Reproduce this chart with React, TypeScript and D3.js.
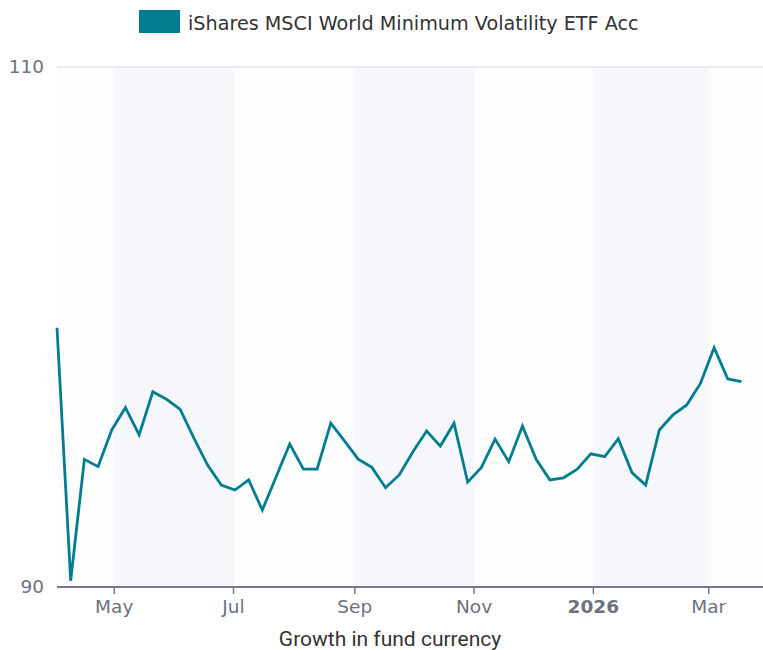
import React, { useEffect, useRef } from 'react';
import * as d3 from 'd3';

const seriesName = 'iShares MSCI World Minimum Volatility ETF Acc';
const startDate = '2025-04-02';
const values = [
  99.97, 90.24, 94.91, 94.63, 96.04, 96.9, 95.85, 97.51, 97.22, 96.83,
  95.73, 94.69, 93.92, 93.73, 94.12, 92.96, 94.23, 95.5, 94.53, 94.53,
  96.3, 95.62, 94.92, 94.6, 93.82, 94.31, 95.2, 96.0, 95.42, 96.3,
  94.03, 94.6, 95.69, 94.82, 96.19, 94.91, 94.12, 94.2, 94.53, 95.12,
  95.01, 95.7, 94.4, 93.92, 96.04, 96.62, 97.0, 97.83, 99.2, 98.0, 97.9,
];
const yTicks = [90, 110];
const xTickDates = ['2025-05-01', '2025-07-01', '2025-09-01', '2025-11-01', '2026-01-01', '2026-03-01'];
const bandStarts = ['2025-05-01', '2025-09-01', '2026-01-01'];
const bandEnds = ['2025-07-01', '2025-11-01', '2026-03-01'];
const xDomain = ['2025-04-02', '2026-03-29'];

const App: React.FC = () => {
  const ref = useRef<SVGSVGElement>(null);

  useEffect(() => {
    if (!ref.current) return;
    const width = 763, height = 650;
    const margin = { top: 67, right: 0, bottom: 63, left: 57 };
    const parse = d3.timeParse('%Y-%m-%d');
    const start = parse(startDate) as Date;
    const data = values.map((v, i) => ({ date: d3.timeDay.offset(start, i * 7), value: v }));
    const dejavu = '"DejaVu Sans", sans-serif';

    const svg = d3.select(ref.current);
    svg.selectAll('*').remove();
    svg.attr('width', width).attr('height', height);

    const x = d3.scaleTime()
      .domain(xDomain.map(d => parse(d) as Date))
      .range([margin.left, width - margin.right]);
    const y = d3.scaleLinear()
      .domain([90, 110])
      .range([height - margin.bottom, margin.top]);

    // plot background
    svg.append('rect')
      .attr('x', margin.left).attr('y', margin.top)
      .attr('width', width - margin.right - margin.left)
      .attr('height', height - margin.bottom - margin.top)
      .attr('fill', '#fdfdfe');

    svg.append('g').selectAll('rect')
      .data(bandStarts)
      .join('rect')
      .attr('x', (d) => x(parse(d) as Date))
      .attr('y', margin.top)
      .attr('width', (d, i) => x(parse(bandEnds[i]) as Date) - x(parse(d) as Date))
      .attr('height', height - margin.bottom - margin.top)
      .attr('fill', '#f5f7fb');

    // top gridline
    svg.append('line')
      .attr('x1', margin.left).attr('x2', width)
      .attr('y1', y(110)).attr('y2', y(110))
      .attr('stroke', '#e3e6ee').attr('stroke-width', 1.5);

    // y labels
    svg.append('g').selectAll('text')
      .data(yTicks)
      .join('text')
      .attr('x', 44)
      .attr('y', d => y(d))
      .attr('dy', '0.35em')
      .attr('text-anchor', 'end')
      .attr('font-family', dejavu)
      .attr('font-size', 18.5)
      .attr('fill', '#6e717c')
      .text(d => d);

    // x axis
    const xAxis = svg.append('g')
      .attr('transform', `translate(0,${y(90)})`)
      .call(
        d3.axisBottom(x)
          .tickValues(xTickDates.map(d => parse(d) as Date))
          .tickSize(7)
          .tickPadding(6)
          .tickFormat((d) => {
            const dt = d as Date;
            return dt.getMonth() === 0 ? d3.timeFormat('%Y')(dt) : d3.timeFormat('%b')(dt);
          })
      );
    xAxis.select('.domain').remove();
    xAxis.append('line')
      .attr('x1', margin.left).attr('x2', width)
      .attr('stroke', '#777a86').attr('stroke-width', 2);
    xAxis.selectAll('.tick line').attr('stroke', '#777a86').attr('stroke-width', 1.5);
    xAxis.selectAll('.tick text')
      .attr('font-family', dejavu)
      .attr('font-size', 18.5)
      .attr('fill', '#6e717c')
      .attr('font-weight', (d) => ((d as Date).getMonth() === 0 ? 'bold' : 'normal'));

    svg.append('text')
      .attr('x', 390).attr('y', 646)
      .attr('text-anchor', 'middle')
      .attr('font-family', 'Roboto, sans-serif')
      .attr('font-size', 21)
      .attr('fill', '#333')
      .text('Growth in fund currency');

    // line
    const line = d3.line<{ date: Date; value: number }>()
      .x(d => x(d.date))
      .y(d => y(d.value));
    svg.append('path')
      .datum(data)
      .attr('fill', 'none')
      .attr('stroke', '#007e8f')
      .attr('stroke-width', 2.8)
      .attr('d', line);

    // legend
    const legend = svg.append('g');
    legend.append('rect')
      .attr('x', 139).attr('y', 10).attr('width', 41).attr('height', 23)
      .attr('fill', '#007e8f');
    legend.append('text')
      .attr('x', 188).attr('y', 29.5)
      .attr('font-family', dejavu)
      .attr('font-size', 19.2)
      .attr('fill', '#333')
      .text(seriesName);
  }, []);

  return <svg ref={ref} style={{ position: 'absolute', left: 0, top: 0 }} />;
};

export default App;
